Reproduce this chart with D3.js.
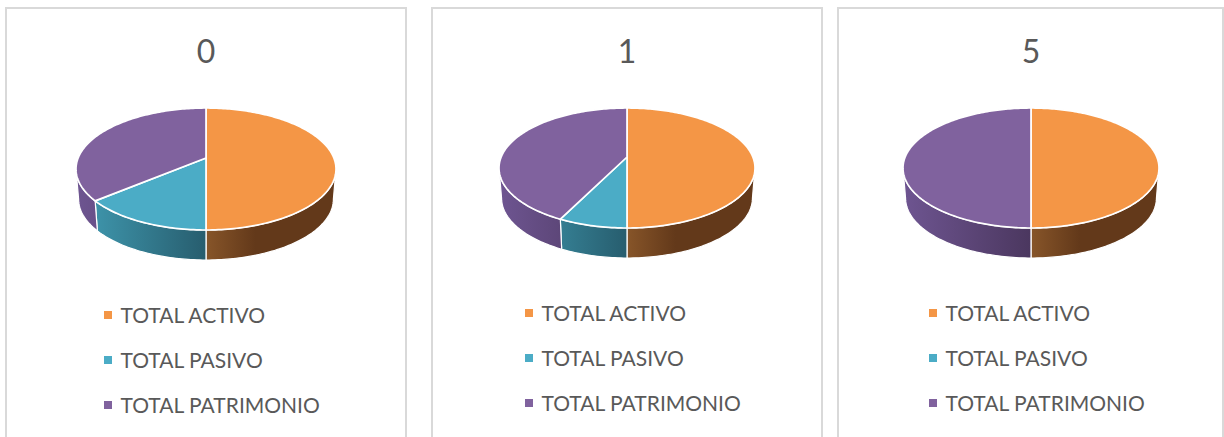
<!DOCTYPE html>
<html><head><meta charset="utf-8">
<style>html,body{margin:0;padding:0;background:#fff;overflow:hidden}svg{display:block}text{font-family:Lato,"Open Sans",sans-serif;fill:#595959}</style>
<script src="https://cdnjs.cloudflare.com/ajax/libs/d3/7.8.5/d3.min.js"></script>
</head><body><svg id="c" width="1224" height="437"></svg>
<script>
const categories = ["TOTAL ACTIVO", "TOTAL PASIVO", "TOTAL PATRIMONIO"];
const titles = ["0", "1", "5"];
const valuesChart0 = [100, 27.8, 72.2];
const valuesChart1 = [100, 14.6, 85.4];
const valuesChart5 = [100, 0, 100];
const seriesByChart = [valuesChart0, valuesChart1, valuesChart5];

const topColors = ["#F49646", "#4BACC6", "#80629E"];
const layouts = [
  {fx:6, fw:400, cx:206, cy:169, rx:130, ry:61, apex:158, lx:104, ly:315, tx:206},
  {fx:432, fw:390, cx:627, cy:168, rx:128, ry:60, apex:157, lx:525, ly:313, tx:627},
  {fx:838, fw:385, cx:1031, cy:168, rx:128, ry:60, apex:157, lx:929, ly:313, tx:1031}
];
const depth = 30, tau = Math.PI * 2;
const svg = d3.select("#c"), defs = svg.append("defs");
const pie = d3.pie().sort(null).startAngle(0).endAngle(tau);
const line = d3.line();

layouts.forEach((p, i) => {
  const g = svg.append("g");
  g.append("path")
    .attr("d", `M${p.fx},437V8H${p.fx + p.fw}V437`)
    .attr("fill", "#fff").attr("stroke", "#d9d9d9").attr("stroke-width", 2);

  g.append("text").attr("x", p.tx).attr("y", 52).attr("dy", "0.35em")
    .attr("text-anchor", "middle").attr("font-size", 32).text(titles[i]);

  // perspective projection of the unit disc onto the tilted plane
  const k = (p.cy - p.apex) / p.ry, a = Math.sqrt(1 - k * k);
  const proj = (th, r = 1, shrink = 1, dy = 0) => {
    const u = r * Math.sin(th), v = r * Math.cos(th), w = 1 + k * v;
    return [p.cx + shrink * p.rx * a * u / w, p.cy - p.ry * (v + k) / w + dy];
  };
  const arcPts = (a0, a1, shrink, dy) => {
    const n = Math.max(2, Math.ceil((a1 - a0) / 0.02));
    return d3.range(n + 1).map(j => proj(a0 + (a1 - a0) * j / n, 1, shrink, dy));
  };

  // side gradients
  const stopsets = [
    {x1:p.cx, x2:p.cx + p.rx, stops:[[0,"#875529"],[0.38,"#63391a"],[1,"#63391a"]]},
    {x1:p.cx - p.rx, x2:p.cx, stops:[[0,"#419cb3"],[1,"#275d6e"]]},
    {x1:p.cx - p.rx, x2:p.cx, stops:[[0,"#6e5591"],[1,"#4b375f"]]}
  ];
  stopsets.forEach((s, c) => {
    const lg = defs.append("linearGradient").attr("id", `g${i}_${c}`)
      .attr("gradientUnits", "userSpaceOnUse")
      .attr("x1", s.x1).attr("x2", s.x2).attr("y1", 0).attr("y2", 0);
    s.stops.forEach(t => lg.append("stop").attr("offset", t[0]).attr("stop-color", t[1]));
  });

  const arcs = pie(seriesByChart[i]);
  const visA = Math.acos(-k), visB = tau - visA;

  // side walls
  arcs.forEach((d, c) => {
    const s = Math.max(d.startAngle, visA), e = Math.min(d.endAngle, visB);
    if (e <= s) return;
    const pts = arcPts(s, e, 1, 0).concat(arcPts(s, e, 0.98, depth).reverse());
    g.append("path").attr("d", line(pts) + "Z")
      .attr("fill", `url(#g${i}_${c})`)
      .attr("stroke", "#fff").attr("stroke-width", 1.2).attr("stroke-linejoin", "round");
  });

  // top faces
  arcs.forEach((d, c) => {
    if (d.endAngle - d.startAngle <= 0) return;
    const pts = [proj(0, 0)].concat(arcPts(d.startAngle, d.endAngle, 1, 0));
    g.append("path").attr("d", line(pts) + "Z")
      .attr("fill", topColors[c])
      .attr("stroke", "#fff").attr("stroke-width", 1.7).attr("stroke-linejoin", "round");
  });

  // legend
  categories.forEach((name, c) => {
    const y = p.ly + c * 45;
    g.append("rect").attr("x", p.lx).attr("y", y - 4).attr("width", 8).attr("height", 8)
      .attr("fill", topColors[c]);
    g.append("text").attr("x", p.lx + 16.5).attr("y", y + 1).attr("dy", "0.35em")
      .attr("font-size", 21).text(name);
  });
});
</script></body></html>
